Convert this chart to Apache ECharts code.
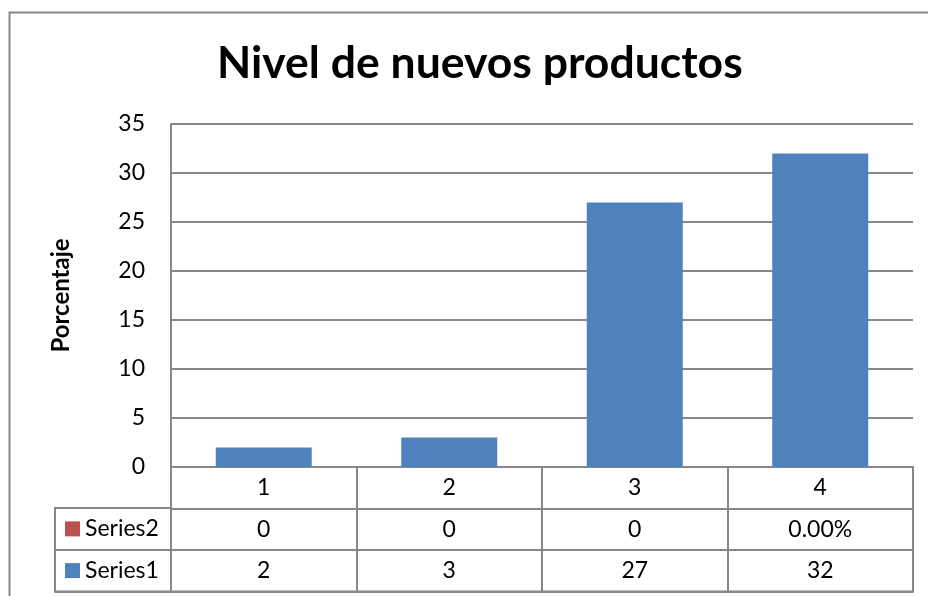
<!DOCTYPE html>
<html>
<head>
<meta charset="utf-8">
<script src="https://cdn.jsdelivr.net/npm/echarts@6/dist/echarts.min.js"></script>
<style>
html,body{margin:0;padding:0;background:#fff;}
#c{width:928px;height:596px;}
</style>
</head>
<body>
<div id="c"></div>
<script>
var categories = ['1', '2', '3', '4'];
var series1Values = [2, 3, 27, 32];
var series2Values = [0, 0, 0, 0];
var series2Display = ['0', '0', '0', '0.00%'];
var seriesNames = ['Series1', 'Series2'];
var yTicks = { min: 0, max: 35, interval: 5 };

var FONT = 'Lato, Carlito, "Open Sans", sans-serif';
var BLUE = '#4F81BD', RED = '#C0504D', LINE = '#878787';

var tableRows = ['Series1', 'Series2', 'hdr'];
var cellData = [];
categories.forEach(function (c, i) {
  cellData.push([i, 'hdr', c]);
  cellData.push([i, 'Series2', series2Display[i]]);
  cellData.push([i, 'Series1', String(series1Values[i])]);
});

var chart = echarts.init(document.getElementById('c'), null, { renderer: 'canvas' });
chart.setOption({
  animation: false,
  backgroundColor: '#fff',
  title: {
    text: 'Nivel de nuevos productos',
    left: 212, top: 36,
    textStyle: { fontFamily: FONT, fontWeight: 'bold', fontSize: 44.5, color: '#000' }
  },
  graphic: [{
    type: 'rect', silent: true, z: -1,
    shape: { x: 9.5, y: 12.5, width: 940, height: 620 },
    style: { fill: 'none', stroke: LINE, lineWidth: 2 }
  }],
  grid: [
    { left: 171, top: 124, width: 742, height: 343 },
    { left: 171, top: 467, width: 742, height: 124.5, show: true, borderColor: LINE, borderWidth: 2 },
    { left: 55, top: 508, width: 116, height: 83.5, show: true, borderColor: LINE, borderWidth: 2 }
  ],
  xAxis: [
    { gridIndex: 0, type: 'category', data: categories,
      axisLine: { lineStyle: { color: LINE, width: 2 } }, axisTick: { show: false },
      axisLabel: { show: false } },
    { gridIndex: 1, type: 'category', data: categories,
      axisLine: { show: false }, axisTick: { show: false }, axisLabel: { show: false },
      splitLine: { show: true, lineStyle: { color: LINE, width: 2 } } },
    { gridIndex: 2, type: 'category', data: ['x'],
      axisLine: { show: false }, axisTick: { show: false }, axisLabel: { show: false } }
  ],
  yAxis: [
    { gridIndex: 0, type: 'value', min: yTicks.min, max: yTicks.max, interval: yTicks.interval,
      name: 'Porcentaje', nameLocation: 'middle', nameGap: 98,
      nameTextStyle: { fontFamily: FONT, fontWeight: 'bold', fontSize: 24, color: '#000' },
      axisLine: { show: true, lineStyle: { color: LINE, width: 2 } },
      axisTick: { show: false },
      axisLabel: { fontFamily: FONT, fontSize: 23, color: '#000', margin: 26 },
      splitLine: { show: true, lineStyle: { color: LINE, width: 2 } } },
    { gridIndex: 1, type: 'category', data: tableRows,
      axisLine: { show: false }, axisTick: { show: false }, axisLabel: { show: false },
      splitLine: { show: true, lineStyle: { color: LINE, width: 2 } } },
    { gridIndex: 2, type: 'category', data: seriesNames,
      axisLine: { show: false }, axisTick: { show: false },
      splitLine: { show: true, lineStyle: { color: LINE, width: 2 } },
      axisLabel: {
        inside: true, margin: 10, color: '#000',
        formatter: function (v) { return '{' + (v === 'Series2' ? 'r' : 'b') + '|}{t|' + v + '}'; },
        rich: {
          r: { backgroundColor: RED, width: 15, height: 15 },
          b: { backgroundColor: BLUE, width: 15, height: 15 },
          t: { fontFamily: FONT, fontSize: 23, color: '#000', padding: [0, 0, 0, 5] }
        }
      } }
  ],
  series: [
    { name: 'Series1', type: 'bar', xAxisIndex: 0, yAxisIndex: 0, data: series1Values,
      barWidth: 96, itemStyle: { color: BLUE } },
    { name: 'Series2', type: 'bar', xAxisIndex: 0, yAxisIndex: 0, data: series2Values,
      barWidth: 96, barGap: '-100%', itemStyle: { color: RED } },
    { type: 'custom', xAxisIndex: 1, yAxisIndex: 1, data: cellData,
      encode: { x: 0, y: 1 },
      renderItem: function (params, api) {
        var p = api.coord([api.value(0), api.value(1)]);
        return {
          type: 'text',
          style: { x: p[0], y: p[1], text: cellData[params.dataIndex][2],
            fontFamily: FONT, fontSize: 23, fill: '#000', align: 'center', verticalAlign: 'middle' }
        };
      } }
  ]
});
</script>
</body>
</html>
